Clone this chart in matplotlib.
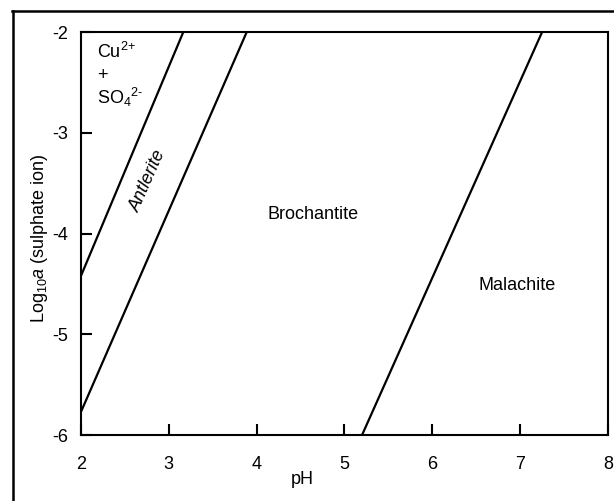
import matplotlib
matplotlib.use("Agg")
import matplotlib.pyplot as plt
from matplotlib.lines import Line2D

plt.rcParams['font.family'] = ['Liberation Sans', 'DejaVu Sans']
plt.rcParams['mathtext.fontset'] = 'custom'
plt.rcParams['mathtext.rm'] = 'Liberation Sans'
plt.rcParams['mathtext.it'] = 'Liberation Sans:italic'
plt.rcParams['mathtext.bf'] = 'Liberation Sans:bold'
plt.rcParams['axes.unicode_minus'] = False

# Boundary lines (pH, log a) endpoints
cu_antlerite_ph = [2.0, 3.165]
cu_antlerite_loga = [-4.42, -2.0]
antlerite_brochantite_ph = [2.0, 3.887]
antlerite_brochantite_loga = [-5.77, -2.0]
brochantite_malachite_ph = [5.20, 7.25]
brochantite_malachite_loga = [-6.0, -2.0]

xticks = [2, 3, 4, 5, 6, 7, 8]
yticks = [-6, -5, -4, -3, -2]

FS = 13

fig = plt.figure(figsize=(6.14, 5.01), dpi=100)
ax = fig.add_axes([0.1319, 0.1317, 0.8583, 0.8044])

for xs, ys in [(cu_antlerite_ph, cu_antlerite_loga),
               (antlerite_brochantite_ph, antlerite_brochantite_loga),
               (brochantite_malachite_ph, brochantite_malachite_loga)]:
    ax.plot(xs, ys, color='black', lw=1.6, solid_capstyle='butt')

ax.set_xlim(2, 8)
ax.set_ylim(-6, -2)
ax.set_xticks(xticks)
ax.set_yticks(yticks)
ax.tick_params(direction='in', length=8, width=1.5, labelsize=FS)
ax.tick_params(axis='x', pad=15)
ax.tick_params(axis='y', pad=9)
for s in ax.spines.values():
    s.set_linewidth(1.5)

fig.text(302/614, 1 - 480/501, 'pH', fontsize=FS, ha='center', va='center')
fig.text(40/614, 1 - 238/501, 'Log$_{10}$$\\mathit{a}$ (sulphate ion)', fontsize=FS,
         ha='center', va='center', rotation=90)

ax.text(2.18, -2.2, 'Cu$^{2\\text{+}}$', fontsize=FS, ha='left', va='center')
ax.text(2.18, -2.43, '+', fontsize=FS, ha='left', va='center')
ax.text(2.18, -2.65, 'SO$_4$$^{2\\text{-}}$', fontsize=FS, ha='left', va='center')
ax.text(2.77, -3.48, 'Antlerite', fontsize=FS, ha='center', va='center', rotation=66, style='italic')
ax.text(4.64, -3.81, 'Brochantite', fontsize=FS, ha='center', va='center')
ax.text(6.97, -4.52, 'Malachite', fontsize=FS, ha='center', va='center')

# outer frame
fig.add_artist(Line2D([12.5/614, 12.5/614], [0, 1 - 11/501], transform=fig.transFigure, color='black', lw=1.8))
fig.add_artist(Line2D([12/614, 1], [1 - 11/501, 1 - 11/501], transform=fig.transFigure, color='black', lw=1.8))

fig.savefig('out.png', dpi=100)
